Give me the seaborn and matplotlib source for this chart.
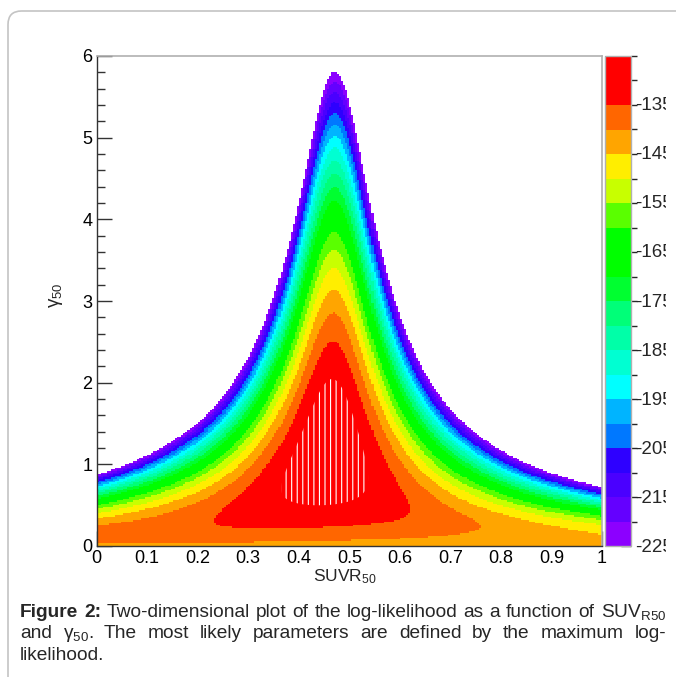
import numpy as np
import pandas as pd
import seaborn as sns
import matplotlib.pyplot as plt
from matplotlib import font_manager
from matplotlib.colors import ListedColormap, BoundaryNorm
from matplotlib.patches import FancyBboxPatch, Rectangle

# --- values ---
suvr_ticks = [0, 0.1, 0.2, 0.3, 0.4, 0.5, 0.6, 0.7, 0.8, 0.9, 1]
suvr_tick_labels = ["0", "0.1", "0.2", "0.3", "0.4", "0.5", "0.6", "0.7", "0.8", "0.9", "1"]
gamma_ticks = [0, 1, 2, 3, 4, 5, 6]
gamma_tick_labels = ["0", "1", "2", "3", "4", "5", "6"]
cbar_ticks = [-135, -145, -155, -165, -175, -185, -195, -205, -215, -225]

z_min, z_max = -225.0, -125.4   # colour axis range
n_levels = 20

# ROOT palette, bottom band -> top band
band_colors = ["#8c00ff", "#6400ff", "#4a00ff", "#2e00ff", "#0078ff",
               "#00b4ff", "#00ffff", "#00ffd2", "#00ffa8", "#00ff78",
               "#00ff30", "#00ff00", "#00ff00", "#5aff00", "#c8ff00",
               "#ffee00", "#ffa500", "#ff6600", "#ff0000", "#ff0000"]

# log-likelihood surface, estimated from where the bands cross the ridge and edges
loglik_gamma0 = -142.8      # flat value at gamma = 0
ridge_suvr = 0.475          # ridge position at large gamma
rise_amp, rise_scale = 12.7, 0.404
ridge_lin, ridge_quad = 8.6, 4.3
width_coef = 620.0          # curvature across the ridge (in gamma*(x-x0))
skew_coef = 22.3            # tilt towards low SUVR
skew_boost, skew_scale = 2.5, 0.18  # extra tilt close to gamma = 0

# --- surface as a 2D histogram (like ROOT COLZ) ---
nx, ny = 250, 300
suvr_c = (np.arange(nx) + 0.5) / nx
gamma_c = 6 - (np.arange(ny) + 0.5) * 6 / ny
S, G = np.meshgrid(suvr_c, gamma_c)
ridge = loglik_gamma0 + rise_amp * (1 - np.exp(-G / rise_scale)) + ridge_lin * G - ridge_quad * G ** 2
u = S - ridge_suvr
tilt = skew_coef * (1 + skew_boost * np.exp(-(G / skew_scale) ** 2))
Z = ridge - width_coef * (G * u) ** 2 - tilt * G * u
df = pd.DataFrame(Z, index=np.round(gamma_c, 4), columns=np.round(suvr_c, 4))

sns.set_theme(style="white")
plt.rcParams["font.family"] = ["Liberation Sans", "DejaVu Sans"]
plt.rcParams["mathtext.fontset"] = "custom"
plt.rcParams["mathtext.rm"] = "Liberation Sans"
plt.rcParams["mathtext.it"] = "Liberation Sans:italic"
plt.rcParams["mathtext.bf"] = "Liberation Sans:bold"
plt.rcParams["hatch.color"] = "white"
plt.rcParams["hatch.linewidth"] = 0.8

W, H = 676, 677
fig = plt.figure(figsize=(W / 100, H / 100), dpi=100)
fig.patch.set_facecolor("white")

def fx(px):
    return px / W

def fy(py):
    return 1 - py / H

# outer rounded frame of the page
frame = FancyBboxPatch((fx(8), fy(720)), 1.2, fy(11) - fy(720), transform=fig.transFigure,
                       boxstyle="round,pad=0,rounding_size=0.02", fc="none", ec="#c4c4c4", lw=1.2)
fig.add_artist(frame)

ax = fig.add_axes([fx(96.5), fy(546), fx(602) - fx(96.5), fy(56) - fy(546)])
cax = fig.add_axes([fx(604.5), fy(546), fx(631) - fx(604.5), fy(56) - fy(546)])

levels = np.linspace(z_min, z_max, n_levels + 1)
cmap = ListedColormap(band_colors)
norm = BoundaryNorm(levels, cmap.N)
sns.heatmap(df, ax=ax, cmap=cmap, norm=norm, mask=df < z_min, cbar_ax=cax,
            xticklabels=False, yticklabels=False)

# top band hatched with white vertical lines as in the original
xi = np.arange(nx) + 0.5
yi = np.arange(ny) + 0.5
ax.contourf(xi, yi, Z, levels=[levels[-2], levels[-1] + 50], colors="none", hatches=["|||"])

# axes in histogram cell coordinates
ax.set_xlim(0, nx)
ax.set_ylim(ny, 0)
xpos = np.array(suvr_ticks) * nx
ypos = (6 - np.array(gamma_ticks)) / 6 * ny
ax.set_xticks(xpos, suvr_tick_labels, rotation=0)
ax.set_yticks(ypos, gamma_tick_labels, rotation=0)
ax.set_xticks([v * nx for v in np.arange(0, 1.0001, 0.02)], minor=True)
ax.set_yticks([(6 - v) / 6 * ny for v in np.arange(0, 6.0001, 0.2)], minor=True)
ax.tick_params(which="both", direction="in", color="#333333", width=1,
               bottom=True, left=True, top=False, right=False)
ax.tick_params(which="major", length=10.8, labelsize=13, pad=3, labelcolor="black")
ax.tick_params(which="minor", length=5.4)
for side in ["left", "bottom"]:
    ax.spines[side].set_visible(True)
    ax.spines[side].set_color("#333333")
    ax.spines[side].set_linewidth(1)
for side in ["top", "right"]:
    ax.spines[side].set_visible(True)
    ax.spines[side].set_color("#b0b0b0")
    ax.spines[side].set_linewidth(1.2)

cbar = ax.collections[0].colorbar
cbar.set_ticks(cbar_ticks, labels=[str(t) for t in cbar_ticks])
cbar.ax.tick_params(direction="in", length=7, color="#333333", width=1, labelsize=13.5, pad=3)
cbar.outline.set_edgecolor("#b0b0b0")
cbar.outline.set_linewidth(1)

# the embedded picture is cut just right of the palette labels
fig.add_artist(Rectangle((fx(665.5), fy(565)), 0.1, fy(60) - fy(565), transform=fig.transFigure,
                         fc="white", ec="none", zorder=10))

fig.text(fx(345), fy(577), r"SUVR$_{\mathregular{50}}$", fontsize=12.5, ha="center", va="center")
fig.text(fx(56), fy(295), r"γ$_{\mathregular{50}}$", fontsize=13.5, rotation=90, ha="center", va="center")

# caption, justified word by word
names = {f.name for f in font_manager.fontManager.ttflist}
cap_family = "Liberation Sans Narrow" if "Liberation Sans Narrow" in names else "Liberation Sans"

renderer = fig.canvas.get_renderer()
line1 = [("Figure", True), ("2:", True), ("Two-dimensional", False), ("plot", False), ("of", False),
         ("the", False), ("log-likelihood", False), ("as", False), ("a", False), ("function", False),
         ("of", False), (r"SUV$_{\mathregular{R50}}$", False)]
line2 = [("and", False), (r"γ$_{\mathregular{50}}$.", False), ("The", False), ("most", False),
         ("likely", False), ("parameters", False), ("are", False), ("defined", False), ("by", False),
         ("the", False), ("maximum", False), ("log-", False)]
line3 = [("likelihood.", False)]


def caption_line(words, base_px, fs, justify=True, x0=20, x1=666):
    arts = []
    for txt, bold in words:
        t = fig.text(0, fy(base_px), txt, fontsize=fs, family=cap_family,
                     fontweight="bold" if bold else "normal", ha="left", va="baseline")
        arts.append(t)
    widths = [a.get_window_extent(renderer).width for a in arts]
    space = renderer.points_to_pixels(fs) * 0.28
    gap = (x1 - x0 - sum(widths)) / (len(arts) - 1) if justify and len(arts) > 1 else space
    x = x0
    for a, w in zip(arts, widths):
        a.set_x(fx(x))
        x += w + gap
    return arts, gap


# largest size that still leaves a normal word gap on the full lines
cap_fs = 14.0
while cap_fs > 10:
    arts, gap1 = caption_line(line1, 617, cap_fs)
    for a in arts:
        a.remove()
    arts, gap2 = caption_line(line2, 638, cap_fs)
    for a in arts:
        a.remove()
    if min(gap1, gap2) >= renderer.points_to_pixels(cap_fs) * 0.28:
        break
    cap_fs -= 0.2

caption_line(line1, 617, cap_fs)
caption_line(line2, 638, cap_fs)
caption_line(line3, 660, cap_fs, justify=False)

fig.savefig("out.png", dpi=100)
